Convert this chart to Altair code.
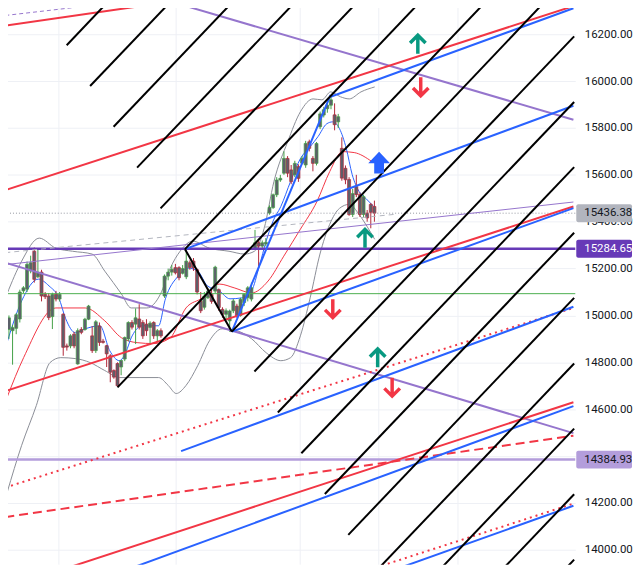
import altair as alt
import pandas as pd

# ---- candles (daily) ----------------------------------------------------
bar_open = [14940, 14935, 14945, 14985, 15105, 15112, 15190, 15274, 15165, 15185,
            15090, 15083, 14995, 15090, 15070, 15005, 14870, 14870, 14920, 14793,
            14940, 14940, 14984, 14913, 14850, 14955, 14890, 14871, 14828, 14765,
            14795, 14780, 14814, 14900, 14970, 14963, 14985, 14970, 14963, 14949,
            14970, 14913, 14935, 15083, 15168, 15185, 15204, 15204, 15180, 15165,
            15225, 15232, 15195, 15060, 15035, 15076, 15090, 15104, 15110, 15026,
            15005, 14977, 15020, 15040, 15000, 15055, 15076, 15070, 15285, 15310,
            15296, 15305, 15437, 15460, 15515, 15578, 15607, 15670, 15621, 15600,
            15635, 15650, 15642, 15741, 15670, 15649, 15805, 15855, 15882, 15897,
            15856, 15826, 15713, 15628, 15580, 15431, 15550, 15516, 15431, 15437,
            15474, 15465]
bar_high = [15000, 14960, 15010, 15110, 15125, 15230, 15255, 15290, 15282, 15195,
            15100, 15095, 15097, 15105, 15100, 15010, 14880, 14920, 14930, 14945,
            14950, 14990, 15045, 14955, 14980, 14970, 14900, 14875, 14835, 14770,
            14800, 14810, 14910, 14975, 14980, 15030, 15048, 14980, 14984, 14975,
            14975, 14942, 14945, 15175, 15200, 15215, 15220, 15210, 15215, 15283,
            15235, 15245, 15200, 15100, 15100, 15115, 15110, 15212, 15115, 15035,
            15030, 15025, 15070, 15050, 15075, 15095, 15125, 15140, 15365, 15320,
            15320, 15330, 15470, 15520, 15590, 15600, 15700, 15680, 15642, 15660,
            15645, 15680, 15745, 15750, 15680, 15740, 15870, 15890, 15910, 15940,
            15905, 15860, 15760, 15640, 15590, 15540, 15600, 15525, 15515, 15450,
            15480, 15490]
bar_low = [14900, 14790, 14920, 14970, 15095, 15100, 15180, 15140, 15160, 15060,
           15070, 14980, 14942, 15060, 15060, 14828, 14850, 14860, 14860, 14790,
           14920, 14935, 14980, 14840, 14840, 14870, 14880, 14780, 14715, 14730,
           14697, 14745, 14805, 14890, 14940, 14878, 14940, 14900, 14913, 14878,
           14900, 14885, 14905, 15075, 15150, 15170, 15175, 15150, 15175, 15155,
           15195, 15190, 15090, 15010, 15025, 15070, 15050, 15095, 15020, 14990,
           14985, 14930, 15010, 14990, 14995, 15040, 15060, 15060, 15280, 15210,
           15285, 15295, 15430, 15455, 15505, 15570, 15600, 15590, 15560, 15590,
           15570, 15645, 15630, 15700, 15615, 15640, 15795, 15845, 15865, 15880,
           15790, 15800, 15575, 15560, 15425, 15420, 15505, 15420, 15420, 15400,
           15372, 15400]
bar_close = [14990, 14948, 15003, 15100, 15118, 15218, 15225, 15154, 15185, 15083,
             15080, 14991, 15090, 15070, 15090, 14864, 14865, 14913, 14870, 14935,
             14928, 14984, 15040, 14850, 14973, 14885, 14885, 14836, 14758, 14737,
             14700, 14808, 14906, 14970, 14950, 14990, 14950, 14913, 14935, 14967,
             14913, 14935, 14913, 15168, 15185, 15197, 15182, 15161, 15200, 15232,
             15205, 15203, 15100, 15020, 15083, 15104, 15060, 15206, 15034, 15005,
             15020, 15019, 15062, 14998, 15069, 15090, 15118, 15118, 15310, 15296,
             15310, 15312, 15461, 15515, 15578, 15585, 15670, 15607, 15571, 15649,
             15585, 15670, 15734, 15713, 15649, 15734, 15860, 15878, 15897, 15920,
             15814, 15848, 15586, 15579, 15431, 15520, 15516, 15431, 15507, 15416,
             15440, 15436.38]

# ---- indicators: (bar, price) ---------------------------------------------
ema_fast = [(-0.54, 14884), (3.51, 15062), (8.11, 15155), (11.08, 15126), (13.78, 15075),
            (15.68, 14986), (18.38, 14926), (21.08, 14943), (25.14, 14956), (27.84, 14850),
            (30.54, 14807), (31.89, 14829), (34.05, 14913), (36.76, 14956), (41.35, 14956),
            (43.24, 15071), (46.76, 15168), (49.46, 15202), (52.16, 15189), (54.86, 15126),
            (58.11, 15105), (61.08, 15071), (64.32, 15075), (67.03, 15105), (69.19, 15211),
            (71.08, 15317), (72.97, 15402), (75.14, 15465), (77.84, 15572), (80.54, 15669),
            (83.24, 15720), (85.41, 15763), (87.84, 15818), (89.46, 15826), (91.35, 15797),
            (93.24, 15712), (94.86, 15601), (96.76, 15529), (98.65, 15499), (100.81, 15465)]
sma_slow = [(-0.54, 14650), (4.05, 14820), (12.97, 15032), (21.08, 15032), (26.49, 14977),
            (31.08, 14905), (35.41, 14884), (40.0, 14880), (44.59, 14905), (48.92, 15032),
            (53.51, 15075), (58.11, 15134), (62.43, 15117), (67.03, 15096), (71.62, 15147),
            (75.95, 15253), (80.54, 15368), (85.14, 15487), (88.65, 15614), (92.16, 15699),
            (95.41, 15695), (100.27, 15657)]
bb_upper = [(-0.54, 15092), (3.51, 15232), (8.38, 15330), (12.97, 15287), (17.57, 15274),
            (22.97, 15262), (26.49, 15189), (31.08, 15092), (33.78, 15032), (38.11, 15032),
            (41.89, 15092), (44.59, 15202), (47.3, 15274), (50.81, 15317), (55.41, 15287),
            (60.81, 15274), (65.14, 15262), (67.84, 15274), (70.54, 15372), (73.24, 15572),
            (77.03, 15741), (80.54, 15869), (84.05, 15924), (86.49, 15920), (88.92, 15954),
            (91.62, 15933), (94.05, 15924), (97.3, 15954), (101.08, 15975)]
bb_lower = [(-0.54, 14243), (3.51, 14446), (7.57, 14616), (11.35, 14799), (14.32, 14820),
            (18.38, 14816), (22.43, 14799), (26.49, 14765), (30.54, 14735), (35.95, 14735),
            (41.35, 14735), (44.05, 14701), (46.22, 14667), (48.92, 14701), (52.16, 14786),
            (55.41, 14892), (58.92, 14943), (62.97, 14935), (67.03, 14901), (71.08, 14841),
            (75.14, 14807), (77.84, 14820), (80.54, 14913), (83.24, 15075), (85.95, 15262),
            (88.65, 15389), (91.35, 15457), (94.05, 15474), (96.76, 15431), (98.92, 15381),
            (101.08, 15325)]

# ---- drawings: (bar1, price1, bar2, price2) ---------------------------------
black_lines = [(9.46, 16327, 11.3, 16357), (15.95, 16153, 28.5, 16357),
               (22.43, 15979, 45.8, 16357), (28.92, 15805, 63.0, 16357),
               (35.41, 15631, 80.3, 16357), (41.89, 15457, 97.5, 16357),
               (48.65, 15283, 114.8, 16357), (30.0, 14693, 132.9, 16357),
               (61.6, 14931, 149.2, 16357), (67.84, 14761, 156.2, 16191),
               (74.32, 14586, 156.2, 15911), (80.81, 14412, 156.2, 15633),
               (87.3, 14238, 156.2, 15353), (93.78, 14064, 156.2, 15075),
               (100.27, 13890, 156.2, 14795), (106.76, 13716, 156.2, 14517),
               (113.24, 13542, 156.2, 14237), (119.7, 13368, 156.2, 13958),
               (48.65, 15283, 61.6, 14931)]
red_lines = [(-1, 16237, 45, 16339), (-1, 15535, 156, 16320),
             (-1, 14677, 156, 15465), (15, 13917, 156, 14630)]
red_dotted = [(-1, 14266, 156, 15032), (100, 13917, 156, 14197)]
red_dashed = [(-1, 14140, 156, 14487)]
blue_lines = [(61.6, 14931, 88.9, 15941), (88.9, 15933, 156, 16311),
              (48.65, 15283, 156, 15895), (61.6, 14931, 156, 15458),
              (47.57, 14421, 156, 15037), (34, 13923, 156, 14613),
              (108, 13923, 156, 14188)]
purple_lines = [(-1, 15225, 156, 14498), (45, 16338, 156, 15835)]
purple_thin = [(-1, 15217, 156, 15484)]
purple_dashed = [(-1, 16280, 32, 16339)]
gray_dashed = [(-1, 15268, 107, 15432)]

level_dark = 15284.65
level_light = 14384.93
level_green = 15093
last_price = 15436.38

arrows_up = [(113.0, 16158), (98.4, 15330), (101.9, 14820)]
arrows_down = [(113.8, 15975), (89.5, 15028), (105.9, 14693)]
arrow_block = [(102.3, 15652)]

time_grid = [13.8, 46.2, 80.5, 102.2, 124.1]
price_ticks = list(range(14000, 16201, 200))

###############################################################################
UP, DN, BODY = "#43a047", "#b2283a", "#5d606b"
RED, BLUE, PURPLE = "#f23645", "#2962ff", "#9575cd"
FONT = "Roboto"

XS = alt.Scale(domain=[-0.54, 155.14], nice=False, zero=False)
YS = alt.Scale(domain=[13936.7, 16335.9], nice=False, zero=False)
# 14400 sits under the 14384.93 tag, so its label is left blank
YAX = alt.Axis(orient="right", values=price_ticks, format=".2f", title=None,
               labelExpr="datum.value == 14400 ? '' : datum.label",
               domain=False, ticks=False, labelPadding=9, labelFont=FONT,
               labelFontSize=11.5, labelColor="#131722", gridColor="#eef0f5")


def X(f):
    return alt.X(f, type="quantitative", scale=XS, axis=None)


def Y(f):
    return alt.Y(f, type="quantitative", scale=YS, axis=YAX)


def draw(rows, color, width, dash=None):
    mk = dict(color=color, strokeWidth=width, clip=True)
    if dash:
        mk["strokeDash"] = dash
    df = pd.DataFrame(rows, columns=["b1", "p1", "b2", "p2"])
    return alt.Chart(df).mark_rule(**mk).encode(X("b1"), Y("p1"), alt.X2("b2"), alt.Y2("p2"))


def curve(pts, color):
    df = pd.DataFrame(pts, columns=["b", "p"])
    return alt.Chart(df).mark_line(color=color, strokeWidth=1, interpolate="monotone",
                                   clip=True).encode(X("b"), Y("p"))


def level(p, color, width, dash=None):
    mk = dict(color=color, strokeWidth=width)
    if dash:
        mk["strokeDash"] = dash
    return alt.Chart(pd.DataFrame({"p": [p]})).mark_rule(**mk).encode(Y("p"))


def tag(p, bg, fg):
    df = pd.DataFrame({"p": [p], "t": [f"{p:.2f}"]})
    box = alt.Chart(df).mark_rect(color=bg, cornerRadius=2, yOffset=-9, y2Offset=9).encode(
        x=alt.value(577), x2=alt.value(633), y=Y("p"), y2=alt.Y2("p"))
    txt = alt.Chart(df).mark_text(align="left", baseline="middle", font=FONT,
                                  fontSize=11.5, color=fg).encode(
        x=alt.value(585), y=Y("p"), text="t:N")
    return box + txt


def arrows(pts, shape, color, size, filled=False):
    df = pd.DataFrame(pts, columns=["b", "p"])
    mk = dict(shape=shape, size=size, color=color, opacity=1, clip=True)
    if filled:
        mk.update(filled=True, strokeWidth=0)
    else:
        mk.update(filled=False, strokeWidth=3.5)
    return alt.Chart(df).mark_point(**mk).encode(X("b"), Y("p"))


SHAPE_UP = "M0,1L0,-0.85M-0.8,-0.1L0,-0.9L0.8,-0.1"
SHAPE_DN = "M0,-1L0,0.85M-0.8,0.1L0,0.9L0.8,0.1"
SHAPE_BLOCK = "M-0.45,1L-0.45,0.05L-1,0.05L0,-1L1,0.05L0.45,0.05L0.45,1Z"

candles = pd.DataFrame({"bar": list(range(len(bar_open))), "open": bar_open,
                        "high": bar_high, "low": bar_low, "close": bar_close})
dir_color = alt.condition("datum.close >= datum.open", alt.value(UP), alt.value(DN))

vgrid = alt.Chart(pd.DataFrame({"b": time_grid})).mark_rule(
    color="#eef0f5", strokeWidth=1).encode(X("b"))
wick = alt.Chart(candles).mark_rule(strokeWidth=1).encode(
    X("bar"), Y("low"), alt.Y2("high"), color=dir_color)
body = alt.Chart(candles).mark_bar(size=3, fill=BODY, strokeWidth=0.7).encode(
    X("bar"), Y("open"), alt.Y2("close"), stroke=dir_color)

chart = alt.layer(
    vgrid,
    curve(bb_upper, "#8a8d96"), curve(bb_lower, "#8a8d96"),
    curve(sma_slow, RED), curve(ema_fast, BLUE),
    wick, body,
    level(last_price, "#9598a1", 1, [1, 2]),
    level(level_green, "#4caf50", 1),
    level(level_dark, "#673ab7", 2.5),
    level(level_light, "#b39ddb", 2.5),
    draw(gray_dashed, "#b2b5be", 1, [5, 4]),
    draw(purple_thin, PURPLE, 1),
    draw(purple_dashed, PURPLE, 1, [4, 3]),
    draw(purple_lines, PURPLE, 2),
    draw(red_dashed, RED, 2, [9, 5]),
    draw(red_dotted, RED, 2, [2, 4]),
    draw(red_lines, RED, 2),
    draw(blue_lines, BLUE, 2),
    draw(black_lines, "#000000", 2),
    arrows(arrows_up, SHAPE_UP, "#089981", 380),
    arrows(arrows_down, SHAPE_DN, RED, 380),
    arrows(arrow_block, SHAPE_BLOCK, BLUE, 480, filled=True),
    tag(last_price, "#b2b5be", "#131722"),
    tag(level_dark, "#673ab7", "#ffffff"),
    tag(level_light, "#b39ddb", "#131722"),
).properties(
    width=576, height=565,
    padding={"left": -8, "top": -8, "right": 0, "bottom": 0},
    background="white",
).configure_view(stroke=None)

chart.save("out.html", embed_options={"renderer": "svg", "actions": False})
